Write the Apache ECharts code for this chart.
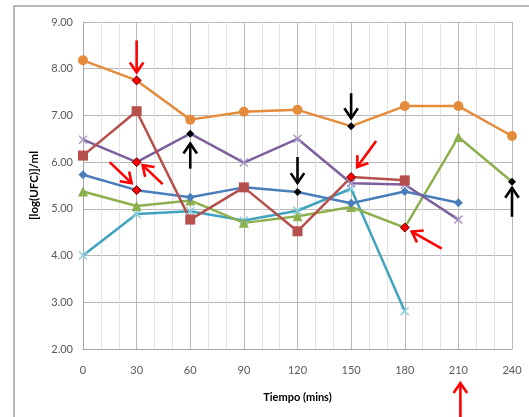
<!DOCTYPE html>
<html><head><meta charset="utf-8">
<script src="https://cdn.jsdelivr.net/npm/echarts@6/dist/echarts.min.js"></script>
<style>html,body{margin:0;padding:0;background:#fff}#c{width:529px;height:417px}</style>
</head><body><div id="c"></div>
<script>
// Data
var times = [0, 30, 60, 90, 120, 150, 180, 210, 240];
var orangeVals = [8.18, 7.75, 6.91, 7.08, 7.12, 6.77, 7.20, 7.20, 6.56];
var redVals    = [6.14, 7.09, 4.77, 5.46, 4.52, 5.68, 5.61];
var purpleVals = [6.48, 6.00, 6.61, 5.99, 6.50, 5.55, 5.52, 4.77];
var blueVals   = [5.73, 5.40, 5.25, 5.46, 5.36, 5.12, 5.37, 5.13];
var greenVals  = [5.37, 5.06, 5.18, 4.70, 4.84, 5.04, 4.60, 6.54, 5.58];
var cyanVals   = [4.00, 4.89, 4.95, 4.75, 4.96, 5.43, 2.81];
// highlighted points [series, time]
var redMarks   = [['orange',30],['purple',30],['blue',30],['red',150],['green',180]];
var blackMarks = [['purple',60],['blue',120],['orange',150],['green',240]];

var chart = echarts.init(document.getElementById('c'));
var FONT = 'Lato';
var cross = 'path://M0,1.2L1.2,0L10,8.8L8.8,10Z M8.8,0L10,1.2L1.2,10L0,8.8Z';

function mk(name, vals, color, symbol, size, symColor){
  var data = vals.map(function(v,i){
    var item = {value:[times[i], v]};
    redMarks.forEach(function(m){ if(m[0]===name && m[1]===times[i]) item.itemStyle={color:'#FF0000',borderColor:'#600',borderWidth:1}, item.symbol='diamond', item.symbolSize=9; });
    blackMarks.forEach(function(m){ if(m[0]===name && m[1]===times[i]) item.itemStyle={color:'#000',borderColor:'#000',borderWidth:0}, item.symbol='diamond', item.symbolSize=8; });
    return item;
  });
  return {type:'line', name:name, data:data, symbol:symbol, symbolSize:size, z: 3,
    lineStyle:{color:color, width:2.5}, itemStyle:{color:symColor||color, borderWidth:0},
    animation:false};
}

chart.setOption({
  animation:false,
  grid:{left:83, right:17, top:22, bottom:68},
  xAxis:{type:'value', min:0, max:240, interval:30,
    name:'Tiempo (mins)', nameLocation:'middle', nameGap:43,
    nameTextStyle:{fontFamily:FONT, fontWeight:'bold', fontSize:11, color:'#000'},
    axisLine:{show:true, lineStyle:{color:'#A6A6A6'}}, axisTick:{show:false},
    axisLabel:{fontFamily:FONT, fontSize:11, color:'#595959', margin:16},
    splitLine:{show:true, lineStyle:{color:'#B8B8B8', width:1}},
    minorTick:{show:false, splitNumber:3},
    minorSplitLine:{show:true, lineStyle:{color:'#E2E2E2', width:1}}
  },
  yAxis:{type:'value', min:2, max:9, interval:1,
    name:'[log(UFC)]/ml', nameLocation:'middle', nameGap:38,
    nameTextStyle:{fontFamily:FONT, fontWeight:'bold', fontSize:11.5, color:'#000'},
    axisLine:{show:true, lineStyle:{color:'#A6A6A6'}}, axisTick:{show:false},
    axisLabel:{fontFamily:FONT, fontSize:11, color:'#595959', margin:10, formatter:function(v){return v.toFixed(2);}},
    splitLine:{show:true, lineStyle:{color:'#B8B8B8', width:1}}
  },
  series:[
    mk('cyan', cyanVals, '#3FA3BE', cross, 9, '#8FD0E0'),
    mk('green', greenVals, '#8DB04F', 'triangle', 10),
    mk('blue', blueVals, '#4A7EBB', 'diamond', 9),
    mk('purple', purpleVals, '#7D5F9E', cross, 9, '#A996C8'),
    mk('red', redVals, '#B5504D', 'rect', 10),
    mk('orange', orangeVals, '#E58C3C', 'circle', 10)
  ]
});

// Annotation arrows: target data point + pixel offsets of tip and tail
var arrows = [
  {at:[30,7.75], tip:[0,-8],  tail:[0,-40],  c:'#FF0000'},
  {at:[30,5.40], tip:[-5,-7], tail:[-27,-28], c:'#FF0000'},
  {at:[30,6.00], tip:[6,3],   tail:[26,22],  c:'#FF0000'},
  {at:[60,6.61], tip:[0,10],  tail:[0,35],   c:'#000'},
  {at:[120,5.36], tip:[0,-9], tail:[0,-35],  c:'#000'},
  {at:[150,6.77], tip:[0,-8], tail:[0,-33],  c:'#000'},
  {at:[150,5.68], tip:[6,-10], tail:[25,-36], c:'#FF0000'},
  {at:[180,4.60], tip:[7,4],  tail:[37,21],  c:'#FF0000'},
  {at:[240,5.58], tip:[0,6],  tail:[0,35],   c:'#000'},
  {at:[210,2.00], tip:[2,34], tail:[2,75],   c:'#FF0000'}
];
var els = [];
arrows.forEach(function(a){
  var p = chart.convertToPixel({gridIndex:0}, a.at);
  var tx = p[0]+a.tip[0], ty = p[1]+a.tip[1];
  var sx = p[0]+a.tail[0], sy = p[1]+a.tail[1];
  var ang = Math.atan2(ty-sy, tx-sx);
  var hl = 12, ha = 0.6;
  var h1 = [tx - hl*Math.cos(ang-ha), ty - hl*Math.sin(ang-ha)];
  var h2 = [tx - hl*Math.cos(ang+ha), ty - hl*Math.sin(ang+ha)];
  var st = {stroke:a.c, lineWidth:2.6, fill:null};
  els.push({type:'line', z:100, shape:{x1:sx,y1:sy,x2:tx,y2:ty}, style:st});
  els.push({type:'polyline', z:100, shape:{points:[h1,[tx,ty],h2]}, style:st});
});
els.push({type:'rect', z:-1, shape:{x:14, y:6, width:560, height:460}, style:{fill:null, stroke:'#A0A0A0', lineWidth:1.5}});
chart.setOption({graphic:els});
</script></body></html>
